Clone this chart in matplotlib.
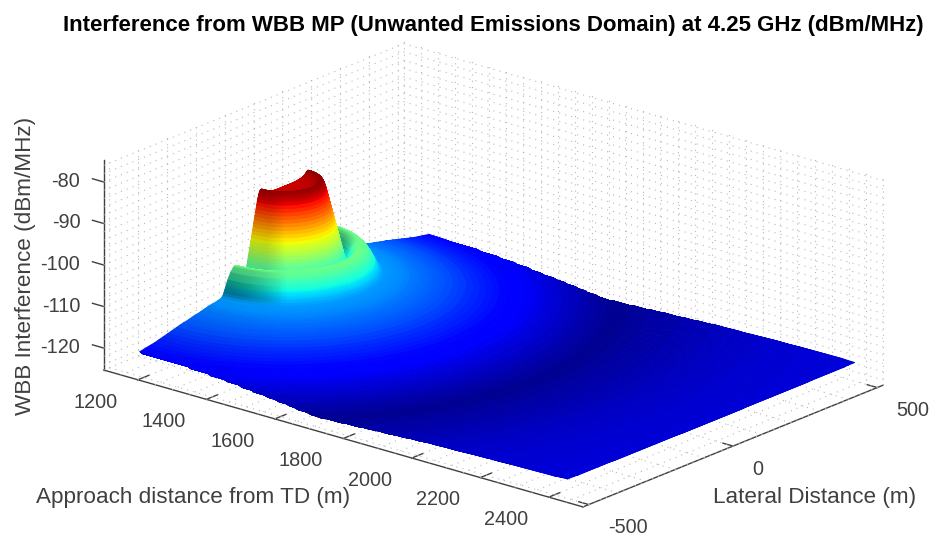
import numpy as np
import matplotlib
matplotlib.use("Agg")
import matplotlib.pyplot as plt
from mpl_toolkits.mplot3d import proj3d

plt.rcParams['font.family'] = ['Liberation Sans', 'DejaVu Sans']

# ---------- values ----------
title = "Interference from WBB MP (Unwanted Emissions Domain) at 4.25 GHz (dBm/MHz)"
x_label = "Approach distance from TD (m)"
y_label = "Lateral Distance (m)"
z_label = "WBB Interference (dBm/MHz)"

x_ticks = [1200, 1400, 1600, 1800, 2000, 2200, 2400]
y_ticks = [-500, 0, 500]
z_ticks = [-120, -110, -100, -90, -80]
x_grid_step, y_grid_step, z_grid_step = 50, 100, 2

source_x = 1190            # centre of the rings, on the near data edge
data_x_end = 2436
data_y_half = 500

# level seen at each distance from the source (m, dBm/MHz); rows of the two lists pair up
ring_radius = [0, 20, 40, 60, 70, 76, 80, 84, 86, 88,
               90, 92, 94, 96, 98, 100, 102, 104, 106, 108,
               110, 112, 114, 116, 118, 120, 122, 124, 126, 128,
               130, 132, 134, 136, 138, 140, 142, 144, 146, 148,
               150, 152, 154, 156, 158, 160, 162, 164, 166, 168,
               170, 172, 174, 176, 178, 180, 182, 184, 186, 188,
               190, 192, 194, 196, 198, 200, 202, 204, 206, 208,
               210, 214, 220, 230, 240, 250, 260, 270, 280, 290,
               300, 310, 320, 330, 340, 350, 360, 375, 390, 405,
               420, 435, 450, 465, 480, 500, 520, 540, 560, 580,
               600, 620, 640, 660, 680, 700, 720, 735, 770, 810,
               850, 890, 930, 970, 1010, 1050, 1090, 1130, 1170, 1210,
               1250, 1290, 1330, 1370]
ring_level = [-93.6, -93.6, -93.5, -93.2, -92.8, -92.3, -92.0, -92.1, -92.4, -92.8,
              -93.3, -93.9, -94.6, -95.4, -96.2, -97.0, -97.8, -98.6, -99.4, -100.2,
              -101.0, -101.8, -102.6, -103.4, -104.2, -105.0, -105.8, -106.6, -107.4, -108.2,
              -109.0, -109.8, -110.6, -111.2, -111.6, -111.8, -111.8, -111.6, -111.2, -110.8,
              -110.3, -109.9, -109.5, -109.1, -108.8, -108.5, -108.3, -108.1, -108.0, -107.9,
              -107.9, -107.9, -108.0, -108.1, -108.3, -108.5, -108.7, -108.9, -109.1, -109.4,
              -109.7, -110.0, -110.3, -110.6, -111.0, -111.4, -111.8, -112.2, -112.6, -113.0,
              -113.4, -114.0, -114.4, -114.6, -114.8, -114.9, -115.0, -115.2, -115.4, -115.6,
              -115.8, -115.9, -116.1, -116.3, -116.5, -116.6, -116.8, -117.1, -117.4, -117.7,
              -118.0, -118.3, -118.6, -118.8, -119.0, -119.3, -119.6, -119.9, -120.2, -120.5,
              -120.9, -121.2, -121.5, -121.8, -122.1, -122.4, -122.7, -122.8, -122.6, -122.4,
              -122.2, -122.0, -121.8, -121.6, -121.4, -121.3, -121.2, -121.1, -121.0, -120.9,
              -120.85, -120.8, -120.75, -120.7]
colour_low = -123.3
colour_high = -91.5
bearing_deg = np.linspace(-90, 90, 241)

# ---------- surface mesh: one row per ring, closed off on the data rectangle ----------
rings = np.array(ring_radius, float)
levels = np.array(ring_level, float)
theta = np.radians(bearing_deg)
hit = np.minimum((data_x_end - source_x) / np.maximum(np.cos(theta), 1e-9),
                 data_y_half / np.maximum(np.abs(np.sin(theta)), 1e-9))
last_ring = np.searchsorted(rings, hit)
R = np.minimum.outer(rings, hit)
rows = np.minimum.outer(np.arange(len(rings)), last_ring)
X = source_x + R * np.cos(theta)
Y = R * np.sin(theta)
Z = levels[rows]

# patch colours: jet on the level, darker where a wall at the ring's ends faces away from the light
quad_z = (Z[:-1, :-1] + Z[1:, :-1] + Z[:-1, 1:] + Z[1:, 1:]) / 4
rgba = plt.get_cmap('jet')(plt.Normalize(colour_low, colour_high)(quad_z))
slope = np.diff(levels) / np.diff(rings)
mid_sin = np.sin((theta[:-1] + theta[1:]) / 2)
end_weight = np.sign(mid_sin) * np.maximum(np.abs(mid_sin) - 0.75, 0) / 0.25
facing = np.maximum(np.outer(slope, end_weight), 0)
outer_part = ((rings[:-1] + rings[1:]) / 2 > 141)[:, None]
dark = np.where(outer_part, np.minimum(0.45, 2.2 * facing), np.minimum(0.15, 0.5 * facing))
rgba[..., :3] *= (1 - dark)[..., None]

# ---------- figure ----------
W, H = 933, 535
fig = plt.figure(figsize=(W / 100, H / 100), dpi=100)
ax = fig.add_axes([0, 0, 1, 1], projection='3d', proj_type='ortho', facecolor='none')
ax.computed_zorder = False
ax.view_init(elev=19.9, azim=-50)
xlim, ylim, zlim = (1100, 2500), (-520, 520), (-125.3, -74.7)
ax.set_xlim(*xlim, view_margin=0)
ax.set_ylim(*ylim, view_margin=0)
ax.set_zlim(*zlim, view_margin=0)
aspect = (625.8, 466.7, 223.4)
ax.set_box_aspect(aspect, zoom=1.0)


def px(x, y, z):
    a, b, _ = proj3d.proj_transform(x, y, z, ax.get_proj())
    return ax.transData.transform((a, b))


fig.canvas.draw()
w0 = px(xlim[1], ylim[1], zlim[0])[0] - px(xlim[0], ylim[0], zlim[0])[0]
zoom = 779.4 / w0
ax.set_box_aspect(aspect, zoom=zoom)
fig.canvas.draw()
p = px(xlim[0], ylim[0], zlim[0])
ax.set_position([(103.6 - p[0]) / W, ((H - 370) - p[1]) / H, 1, 1])

# dotted grid on the three back planes
ax.grid(False)
grid_style = dict(color=(0.72, 0.72, 0.72), linewidth=0.8, linestyle=(0, (1.0, 4.6)), zorder=1, clip_on=False)
gx = np.arange(xlim[0], xlim[1] + 1, x_grid_step)
gy = np.arange(-500, 501, y_grid_step)
gz = np.arange(-124, zlim[1], z_grid_step)
for v in gx:
    ax.plot([v, v], [ylim[1], ylim[1]], zlim, **grid_style)
    ax.plot([v, v], ylim, [zlim[0], zlim[0]], **grid_style)
for v in gy:
    ax.plot([xlim[0], xlim[0]], [v, v], zlim, **grid_style)
    ax.plot(xlim, [v, v], [zlim[0], zlim[0]], **grid_style)
for v in gz:
    ax.plot(xlim, [ylim[1], ylim[1]], [v, v], **grid_style)
    ax.plot([xlim[0], xlim[0]], ylim, [v, v], **grid_style)

surf = ax.plot_surface(X, Y, Z, facecolors=rgba, rstride=1, cstride=1,
                       linewidth=0.7, antialiased=True, shade=False, zorder=2)
surf.set_clip_on(False)

ink = (0.25, 0.25, 0.25)
ax.zaxis._get_tickdir = lambda position: 0
for axis, ticks, out, pad, ha, va in ((ax.xaxis, x_ticks, 0.46, 5.5, 'right', 'center'),
                                      (ax.yaxis, y_ticks, 0.26, 0, 'left', 'top'),
                                      (ax.zaxis, z_ticks, 0.29, -2, 'right', 'center')):
    axis.set_ticks(ticks, labels=[str(t) for t in ticks])
    axis.set_pane_color((1, 1, 1, 1))
    axis.pane.set_edgecolor('none')
    axis.line.set_color(ink)
    axis.line.set_linewidth(1.0)
    axis._axinfo['tick'].update(inward_factor=0, outward_factor=out, color=ink, linewidth={True: 1.0, False: 0.5})
    axis.set_tick_params(labelsize=14.3, labelcolor=ink, color=ink, pad=pad)
    for lab in axis.get_ticklabels():
        lab.set_ha(ha)
        lab.set_va(va)
ax.zaxis.set_ticks_position('lower')

fig.text(493 / W, 1 - 26 / H, title, ha='center', va='center', fontsize=16, fontweight='bold', color='black')
fig.text(193 / W, 1 - 497 / H, x_label, ha='center', va='center', fontsize=16.2, color=ink)
fig.text(815 / W, 1 - 497 / H, y_label, ha='center', va='center', fontsize=16.2, color=ink)
fig.text(26 / W, 1 - 266 / H, z_label, ha='center', va='center', rotation=90, fontsize=16.2, color=ink)

fig.savefig('out.png', dpi=100)
